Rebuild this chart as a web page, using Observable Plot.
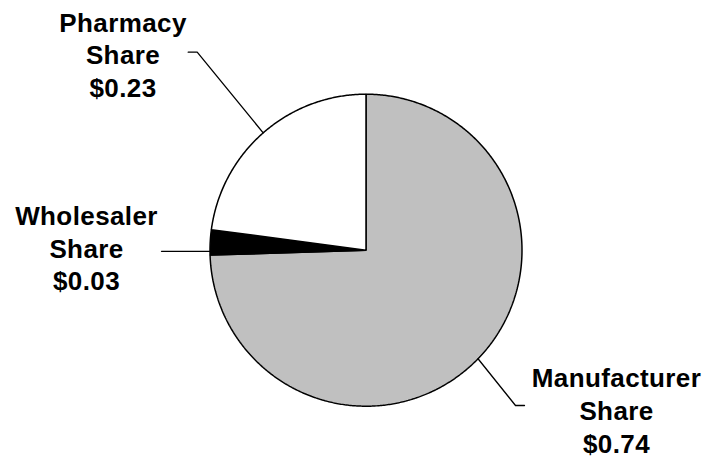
<!DOCTYPE html>
<html>
<head>
<meta charset="utf-8">
<script src="https://cdn.jsdelivr.net/npm/d3@7"></script>
<script src="https://cdn.jsdelivr.net/npm/@observablehq/plot@0.6"></script>
<style>
  html, body { margin: 0; padding: 0; background: #ffffff; }
  #chart { width: 708px; height: 460px; }
  #chart svg text { letter-spacing: 0.4px; }
</style>
</head>
<body>
<div id="chart"></div>
<script>
// ---- data ----
const names = ["Manufacturer", "Wholesaler", "Pharmacy"];
const shares = [0.745, 0.026, 0.229];          // slice sizes
const valueLabels = ["$0.74", "$0.03", "$0.23"]; // printed values
const shareWord = "Share";

// ---- styles ----
const fills = ["#c0c0c0", "#000000", "#ffffff"];

// ---- layout ----
const W = 708, H = 460;
const cx = 365.5, cy = 249.7, R = 156;
// anchor: fraction within slice where the leader starts
const labelPos = {
  Manufacturer: {x: 616, y: 409, anchor: 0.5, leader: [[515, 405], [524, 405]]},
  Wholesaler:   {x: 86,  y: 246.7, anchor: 0.15, leader: [[161, null]]},
  Pharmacy:     {x: 122.5, y: 53.4, anchor: 0.5, leader: [[196.7, 51.7], [187.7, 51.7]]}
};

const pie = d3.pie().sort(null).startAngle(0).endAngle(2 * Math.PI);
const arcs = pie(shares).map((a, i) => ({...a, name: names[i], value: valueLabels[i]}));

const px = t => cx + R * Math.sin(t);
const py = t => cy - R * Math.cos(t);

const slicePts = [];
for (const a of arcs) {
  slicePts.push({name: a.name, x: cx, y: cy});
  const n = Math.max(2, Math.ceil((a.endAngle - a.startAngle) / (Math.PI / 360)));
  for (let k = 0; k <= n; k++) {
    const t = a.startAngle + (a.endAngle - a.startAngle) * k / n;
    slicePts.push({name: a.name, x: px(t), y: py(t)});
  }
}

const leaderPts = [];
for (const a of arcs) {
  const L = labelPos[a.name];
  const t = a.startAngle + (a.endAngle - a.startAngle) * L.anchor;
  const sx = px(t), sy = py(t);
  leaderPts.push({name: a.name, x: sx, y: sy});
  for (const [x, y] of L.leader) leaderPts.push({name: a.name, x, y: y == null ? sy : y});
}

const labels = arcs.map(a => ({
  name: a.name,
  text: `${a.name}\n${shareWord}\n${a.value}`,
  x: labelPos[a.name].x,
  y: labelPos[a.name].y
}));

const chart = Plot.plot({
  width: W,
  height: H,
  margin: 0,
  x: {domain: [0, W], range: [0, W], axis: null},
  y: {domain: [0, H], range: [0, H], axis: null},
  color: {domain: names, range: fills},
  style: {background: "#ffffff", fontFamily: "'Liberation Sans', Arial, sans-serif"},
  marks: [
    Plot.line(slicePts, {x: "x", y: "y", z: "name", fill: "name", stroke: "#000", strokeWidth: 1.5, curve: "linear-closed", strokeLinejoin: "miter"}),
    Plot.line(leaderPts, {x: "x", y: "y", z: "name", stroke: "#000", strokeWidth: 1.3}),
    Plot.text(labels, {x: "x", y: "y", text: "text", fontSize: 26, fontWeight: "bold", fill: "#000", lineHeight: 1.26, lineAnchor: "middle", textAnchor: "middle"})
  ]
});
document.getElementById("chart").appendChild(chart);
</script>
</body>
</html>
